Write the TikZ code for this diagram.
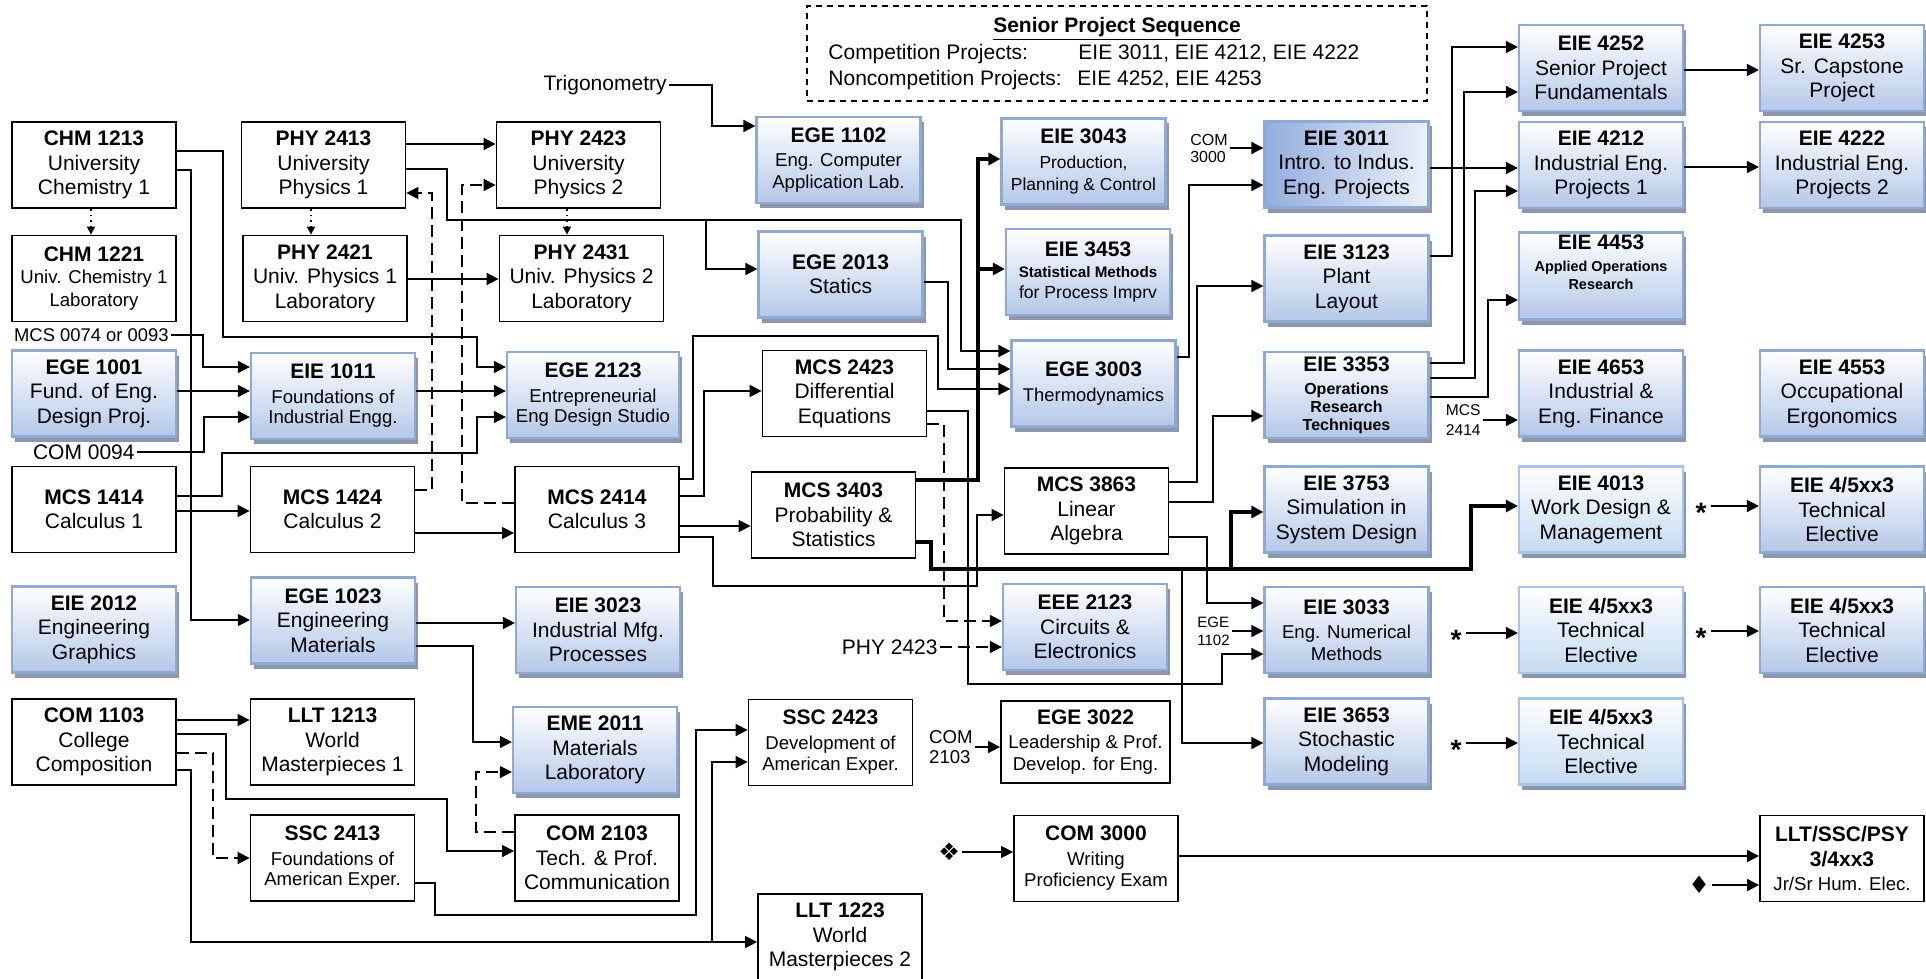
\documentclass[tikz,border=0pt]{standalone}
\usepackage{fontspec}
\setmainfont{Liberation Sans}
\newfontfamily\symfont{DejaVu Sans}
\usetikzlibrary{arrows.meta}
\usetikzlibrary{shadows}
\definecolor{edgeblue}{RGB}{141,169,216}
\definecolor{fillblue}{RGB}{180,199,232}
\definecolor{shadowgray}{RGB}{140,151,172}
\definecolor{liteedge}{RGB}{165,198,232}
\definecolor{litefill}{RGB}{196,218,241}
\definecolor{deepfill}{RGB}{146,173,222}
\newcommand{\smtext}{\fontsize{9.3}{11}\selectfont}
\tikzstyle{course}=[draw, line width=0.9pt, fill=white, minimum width=82pt, minimum height=43pt, align=center, inner sep=1pt]
\tikzstyle{shaded course}=[course, draw=edgeblue, line width=1.1pt, top color=white, bottom color=fillblue, general shadow={fill=shadowgray, shadow xshift=1.5pt, shadow yshift=-2.5pt}]
\tikzstyle{light course}=[shaded course, draw=liteedge, bottom color=litefill]
\tikzstyle{deep course}=[shaded course, left color=deepfill, right color=white!75!fillblue]
\tikzstyle{prereq}=[draw, line width=0.8pt, -{Triangle[length=6pt,width=6pt]}]
\tikzstyle{heavy}=[prereq, line width=1.6pt]
\tikzstyle{coreq}=[prereq, dash pattern=on 6pt off 3pt]
\tikzstyle{labpair}=[draw, line width=0.8pt, dotted, -{Triangle[length=4pt,width=4pt]}]
\tikzstyle{side note}=[inner sep=1pt, anchor=east]
\tikzstyle{starlbl}=[inner sep=2pt, font=\fontsize{14}{14}\selectfont\bfseries]

\begin{document}
\begin{tikzpicture}[x=0.5pt, y=-0.5pt, font=\fontsize{10.5}{12.25}\selectfont]
      \useasboundingbox (0,0) rectangle (1926,979);
      \node[course] (chmA) at (94,165) {\textbf{CHM 1213}\\University\\Chemistry 1};
      \node[course] (chmB) at (94,278.5) {\textbf{CHM 1221}\\[-1pt]{\smtext Univ. Chemistry 1}\\[-1pt]{\smtext Laboratory}};
      \node[shaded course] (ege1001) at (94,393.5) {\textbf{EGE 1001}\\Fund. of Eng.\\Design Proj.};
      \node[course] (mcs1414) at (94,509.5) {\textbf{MCS 1414}\\Calculus 1};
      \node[shaded course] (eie2012) at (94,629.5) {\textbf{EIE 2012}\\Engineering\\Graphics};
      \node[course] (com1103) at (94,742) {\textbf{COM 1103}\\College\\Composition};
      \node[course] (phy2413) at (323.5,165) {\textbf{PHY 2413}\\University\\Physics 1};
      \node[course] (phy2421) at (325,278.5) {\textbf{PHY 2421}\\Univ. Physics 1\\Laboratory};
      \node[shaded course] (eie1011) at (333,396) {\textbf{EIE 1011}\\{\smtext Foundations of}\\[-2pt]{\smtext Industrial Engg.}};
      \node[course] (mcs1424) at (332.5,509.5) {\textbf{MCS 1424}\\Calculus 2};
      \node[shaded course] (ege1023) at (333,620.5) {\textbf{EGE 1023}\\Engineering\\Materials};
      \node[course] (llt1213) at (332.5,742) {\textbf{LLT 1213}\\World\\Masterpieces 1};
      \node[course] (ssc2413) at (332.5,858) {\textbf{SSC 2413}\\{\smtext Foundations of}\\[-2pt]{\smtext American Exper.}};
      \node[course] (phy2423) at (578.5,165) {\textbf{PHY 2423}\\University\\Physics 2};
      \node[course] (phy2431) at (581.5,278.5) {\textbf{PHY 2431}\\Univ. Physics 2\\Laboratory};
      \node[shaded course, minimum width=86pt] (ege2123) at (593,395) {\textbf{EGE 2123}\\{\smtext Entrepreneurial}\\[-2pt]{\smtext Eng Design Studio}};
      \node[course] (mcs2414) at (597,509.5) {\textbf{MCS 2414}\\Calculus 3};
      \node[shaded course] (eie3023) at (598,630) {\textbf{EIE 3023}\\Industrial Mfg.\\Processes};
      \node[shaded course] (eme2011) at (595,750) {\textbf{EME 2011}\\Materials\\Laboratory};
      \node[course] (com2103) at (597,858) {\textbf{COM 2103}\\Tech. \& Prof.\\Communication};
      \node[shaded course] (ege1102) at (838.5,160) {\textbf{EGE 1102}\\{\smtext Eng. Computer}\\[-1.5pt]{\smtext Application Lab.}};
      \node[shaded course] (ege2013) at (840.5,274.5) {\textbf{EGE 2013}\\Statics};
      \node[course] (mcs2423) at (844.5,393.5) {\textbf{MCS 2423}\\Differential\\Equations};
      \node[course] (mcs3403) at (833.5,515) {\textbf{MCS 3403}\\Probability \&\\Statistics};
      \node[course] (ssc2423) at (830.5,742.5) {\textbf{SSC 2423}\\{\smtext Development of}\\[-1.5pt]{\smtext American Exper.}};
      \node[course] (llt1223) at (840,937) {\textbf{LLT 1223}\\World\\Masterpieces 2};
      \node[shaded course] (eie3043) at (1083.5,161.5) {\textbf{EIE 3043}\\{\fontsize{8.7}{10}\selectfont Production,}\\[-1pt]{\fontsize{8.7}{10}\selectfont Planning \& Control}};
      \node[shaded course] (eie3453) at (1088,272) {\textbf{EIE 3453}\\[-1.75pt]{\fontsize{7.6}{9}\selectfont\bfseries Statistical Methods}\\[-1.75pt]{\fontsize{8.8}{10}\selectfont for Process Imprv}};
      \node[shaded course] (ege3003) at (1093.5,383.5) {\textbf{EGE 3003}\\{\fontsize{9.2}{11}\selectfont Thermodynamics}};
      \node[course] (mcs3863) at (1086.5,511) {\textbf{MCS 3863}\\Linear\\Algebra};
      \node[shaded course] (eee2123) at (1085,627) {\textbf{EEE 2123}\\Circuits \&\\Electronics};
      \node[course, minimum width=84.5pt, minimum height=41pt] (ege3022) at (1085.5,742) {\textbf{EGE 3022}\\{\smtext Leadership \& Prof.}\\[-1.5pt]{\smtext Develop. for Eng.}};
      \node[course] (com3000) at (1096,858.5) {\textbf{COM 3000}\\{\smtext Writing}\\[-1.5pt]{\smtext Proficiency Exam}};
      \node[deep course] (eie3011) at (1346.5,164.5) {\textbf{EIE 3011}\\Intro. to Indus.\\Eng. Projects};
      \node[shaded course] (eie3123) at (1346.5,278.5) {\textbf{EIE 3123}\\Plant\\Layout};
      \node[shaded course] (eie3353) at (1346.5,395) {\textbf{EIE 3353}\\[-0.75pt]{\fontsize{8}{9}\selectfont\bfseries Operations}\\[-3.25pt]{\fontsize{8}{9}\selectfont\bfseries Research}\\[-3.25pt]{\fontsize{8}{9}\selectfont\bfseries Techniques}};
      \node[shaded course] (eie3753) at (1346.5,509.5) {\textbf{EIE 3753}\\Simulation in\\System Design};
      \node[shaded course] (eie3033) at (1346.5,630) {\textbf{EIE 3033}\\{\smtext Eng. Numerical}\\[-1.5pt]{\smtext Methods}};
      \node[shaded course] (eie3653) at (1346.5,741.5) {\textbf{EIE 3653}\\Stochastic\\Modeling};
      \node[shaded course] (eie4252) at (1601,68) {\textbf{EIE 4252}\\Senior Project\\Fundamentals};
      \node[shaded course] (eie4212) at (1601,165) {\textbf{EIE 4212}\\Industrial Eng.\\Projects 1};
      \node[shaded course] (eie4453) at (1601,276) {\textbf{EIE 4453}\\[-1.25pt]{\fontsize{7.2}{9}\selectfont\bfseries Applied Operations}\\[-3.25pt]{\fontsize{7.2}{9}\selectfont\bfseries Research}\\[2pt]};
      \node[shaded course] (eie4653) at (1601,393.5) {\textbf{EIE 4653}\\Industrial \&\\Eng. Finance};
      \node[light course] (eie4013) at (1601,509.5) {\textbf{EIE 4013}\\Work Design \&\\Management};
      \node[light course] (eie4xxA) at (1601,630) {\textbf{EIE 4/5xx3}\\Technical\\Elective};
      \node[light course] (eie4xxB) at (1601,741.5) {\textbf{EIE 4/5xx3}\\Technical\\Elective};
      \node[shaded course] (eie4253) at (1842,68) {\textbf{EIE 4253}\\Sr. Capstone\\Project};
      \node[shaded course] (eie4222) at (1842,165) {\textbf{EIE 4222}\\Industrial Eng.\\Projects 2};
      \node[shaded course] (eie4553) at (1842,393.5) {\textbf{EIE 4553}\\Occupational\\Ergonomics};
      \node[shaded course] (eie4xxC) at (1842,509.5) {\textbf{EIE 4/5xx3}\\Technical\\Elective};
      \node[shaded course] (eie4xxD) at (1842,630) {\textbf{EIE 4/5xx3}\\Technical\\Elective};
      \node[course] (lltssc) at (1842,858.5) {\textbf{LLT/SSC/PSY}\\\textbf{3/4xx3}\\{\smtext Jr/Sr Hum. Elec.}};

      \node[draw, line width=0.8pt, dash pattern=on 3pt off 2.5pt, minimum width=310pt, minimum height=47.5pt] (seq) at (1117,53.5) {};
      \node (seqTitle) at (1117,29) {\textbf{\underline{Senior Project Sequence}}};
      \node[anchor=west, inner sep=0] (seqA) at (828,54) {Competition Projects:};
      \node[anchor=west, inner sep=0] (seqB) at (1078,54) {EIE 3011, EIE 4212, EIE 4222};
      \node[anchor=west, inner sep=0] (seqC) at (828,80) {Noncompetition Projects:};
      \node[anchor=west, inner sep=0] (seqD) at (1077,80) {EIE 4252, EIE 4253};

      \node[side note, font=\fontsize{9.2}{11}\selectfont] (mcsPre) at (171,335) {MCS 0074 or 0093};
      \node[side note] (comPre) at (137,452) {COM 0094};
      \node[side note] (trig) at (669,85) {Trigonometry};
      \node[side note] (phyPre) at (940,647) {PHY 2423};
      \node[side note, align=left, font=\fontsize{9.3}{10}\selectfont] (comB) at (975,747) {COM\\2103};
      \node[side note, align=left, font=\fontsize{8}{8.5}\selectfont] (comA) at (1230,148) {COM\\3000};
      \node[side note, align=left, font=\fontsize{7.8}{10}\selectfont] (mcsC) at (1483,420) {MCS\\2414};
      \node[side note, align=left, font=\fontsize{7.5}{9}\selectfont] (egeC) at (1232,631) {EGE\\1102};
      \node[starlbl] (starA) at (1701,513) {*};
      \node[starlbl] (starB) at (1456,640) {*};
      \node[starlbl] (starC) at (1701,638) {*};
      \node[starlbl] (starD) at (1456,750) {*};
      \node[inner sep=1pt, font=\symfont\fontsize{12}{12}\selectfont] (orn) at (949,852) {❖};
      \node[inner sep=1pt, font=\symfont\fontsize{12}{12}\selectfont] (dmd) at (1699,885) {♦};

      \coordinate (phyJ) at (706,220);
      \coordinate (mcsJ) at (978,269);
      \coordinate (probJ) at (1231,569);
      \coordinate (probK) at (1182,569);
      \coordinate (comJ) at (712,942);

      \draw[labpair] (chmA.south -| 91,0) -- (chmB.north -| 91,0);
      \draw[labpair] (phy2413.south -| 311,0) -- (phy2421.north -| 311,0);
      \draw[labpair] (phy2423.south -| 567,0) -- (phy2431.north -| 567,0);
      \draw[prereq] (phy2413.east |- 0,144) -- (phy2423.west |- 0,144);
      \draw[prereq] (phy2421.east |- 0,279) -- (phy2431.west |- 0,279);
      \draw[prereq] (chmA.east |- 0,151) -| (223,337) -| (477,367) -- (ege2123.west |- 0,367);
      \draw[prereq] (chmA.east |- 0,170) -| (191,620) -- (ege1023.west |- 0,620);
      \draw[prereq] (phy2413.east |- 0,169) -| (447,220) -| (961,351) -- (ege3003.west |- 0,351);
      \draw[prereq] (phyJ) |- (ege2013.west |- 0,269);
      \draw[coreq] (mcs1424.east |- 0,490) -| (432,193) -- (phy2413.east |- 0,193);
      \draw[coreq] (mcs2414.west |- 0,503) -| (462,185) -- (phy2423.west |- 0,185);
      \draw[prereq] (mcsPre.east) -| (203,367) -- (eie1011.west |- 0,367);
      \draw[prereq] (ege1001.east |- 0,391) -- (eie1011.west |- 0,391);
      \draw[prereq] (comPre.east) -| (204,417) -- (eie1011.west |- 0,417);
      \draw[prereq] (eie1011.east |- 0,391) -- (ege2123.west |- 0,391);
      \draw[prereq] (mcs1414.east |- 0,496) -| (222,453) -| (477,417) -- (ege2123.west |- 0,417);
      \draw[prereq] (mcs1414.east |- 0,511) -- (mcs1424.west |- 0,511);
      \draw[prereq] (mcs1424.east |- 0,533) -- (mcs2414.west |- 0,533);
      \draw[prereq] (ege1023.east |- 0,623) -- (eie3023.west |- 0,623);
      \draw[prereq] (ege1023.east |- 0,646) -| (473,742) -- (eme2011.west |- 0,742);
      \draw[prereq] (com1103.east |- 0,720) -- (llt1213.west |- 0,720);
      \draw[prereq] (com1103.east |- 0,734) -| (226,799) -| (447,851) -- (com2103.west |- 0,851);
      \draw[coreq] (com1103.east |- 0,753) -| (213,858) -- (ssc2413.west |- 0,858);
      \draw[prereq] (com1103.east |- 0,770) -| (191,942) -- (llt1223.west |- 0,942);
      \draw[prereq] (comJ) |- (ssc2423.west |- 0,762);
      \draw[coreq] (com2103.west |- 0,832) -| (476,772) -- (eme2011.west |- 0,772);
      \draw[prereq] (ssc2413.east |- 0,883) -| (435,915) -| (696,730) -- (ssc2423.west |- 0,730);
      \draw[prereq] (trig.east) -| (712,126) -- (ege1102.west |- 0,126);
      \draw[prereq] (comB.east) -- (ege3022.west |- comB);
      \draw[prereq] (mcs2414.east |- 0,496) -| (704,391) -- (mcs2423.west |- 0,391);
      \draw[prereq] (mcs2414.east |- 0,479) -| (693,336) -| (938,389) -- (ege3003.west |- 0,389);
      \draw[prereq] (mcs2414.east |- 0,526) -- (mcs3403.west |- 0,526);
      \draw[prereq] (mcs2414.east |- 0,537) -| (713,586) -| (977,515) -- (mcs3863.west |- 0,515);
      \draw[prereq] (ege2013.east |- 0,282) -| (948,369) -- (ege3003.west |- 0,369);
      \draw[heavy] (mcs3403.east |- 0,480) -| (978,159) -- (eie3043.west |- 0,159);
      \draw[heavy] (mcsJ) -- (eie3453.west |- mcsJ);
      \draw[heavy] (mcs3403.east |- 0,542) -| (931,569) -| (1471,506) -- (eie4013.west |- 0,506);
      \draw[heavy] (probJ) |- (eie3753.west |- 0,512);
      \draw[prereq] (probK) |- (eie3653.west |- 0,743);
      \draw[prereq] (mcs2423.east |- 0,411) -| (968,684) -| (1222,654) -- (eie3033.west |- 0,654);
      \draw[coreq] (mcs2423.east |- 0,424) -| (944,621) -- (eee2123.west |- 0,621);
      \draw[coreq] (phyPre.east) -- (eee2123.west |- phyPre);
      \draw[prereq] (ege3003.east |- 0,357) -| (1189,185) -- (eie3011.west |- 0,185);
      \draw[prereq] (comA.east) -- (eie3011.west |- comA);
      \draw[prereq] (mcs3863.east |- 0,482) -| (1197,286) -- (eie3123.west |- 0,286);
      \draw[prereq] (mcs3863.east |- 0,502) -| (1213,416) -- (eie3353.west |- 0,416);
      \draw[prereq] (mcs3863.east |- 0,537) -| (1207,603) -- (eie3033.west |- 0,603);
      \draw[prereq] (egeC.east) -- (eie3033.west |- egeC);
      \draw[prereq] (eie3011.east |- 0,168) -- (eie4212.west |- 0,168);
      \draw[prereq] (eie3123.east |- 0,256) -| (1452,47) -- (eie4252.west |- 0,47);
      \draw[prereq] (eie3353.east |- 0,363) -| (1464,92) -- (eie4252.west |- 0,92);
      \draw[prereq] (eie3353.east |- 0,378) -| (1475,191) -- (eie4212.west |- 0,191);
      \draw[prereq] (eie3353.east |- 0,397) -| (1488,300) -- (eie4453.west |- 0,300);
      \draw[prereq] (mcsC.east) -- (eie4653.west |- mcsC);
      \draw[prereq] (eie4252.east |- 0,70) -- (eie4253.west |- 0,70);
      \draw[prereq] (eie4212.east |- 0,167) -- (eie4222.west |- 0,167);
      \draw[prereq] (starA.east |- 0,506) -- (eie4xxC.west |- 0,506);
      \draw[prereq] (starB.east |- 0,633) -- (eie4xxA.west |- 0,633);
      \draw[prereq] (starC.east |- 0,631) -- (eie4xxD.west |- 0,631);
      \draw[prereq] (starD.east |- 0,743) -- (eie4xxB.west |- 0,743);
      \draw[prereq] (orn.east) -- (com3000.west |- orn);
      \draw[prereq] (com3000.east |- 0,856) -- (lltssc.west |- 0,856);
      \draw[prereq] (dmd.east) -- (lltssc.west |- dmd);
\end{tikzpicture}
\end{document}
